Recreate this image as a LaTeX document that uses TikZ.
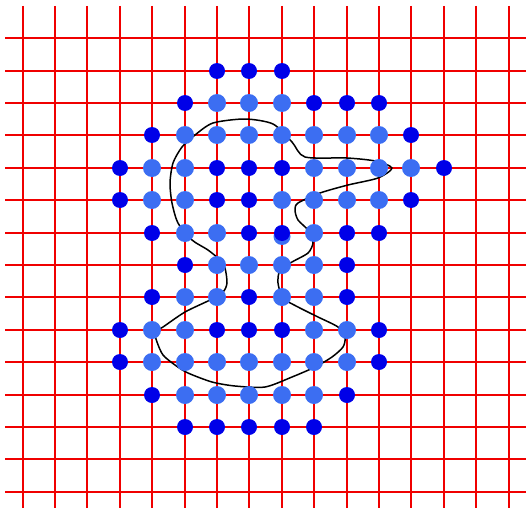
\documentclass[tikz,border=0pt]{standalone}
\definecolor{gridred}{RGB}{240,0,0}
\definecolor{darkdot}{RGB}{0,0,232}
\definecolor{lightdot}{RGB}{60,110,242}
\tikzset{
  gridline/.style={gridred,line width=2pt},
  ddot/.style={fill=darkdot},
  ldot/.style={fill=lightdot},
  contour/.style={black,line width=1.5pt,line join=round}
}
\begin{document}
\begin{tikzpicture}[x=1pt,y=-1pt]
\useasboundingbox (0,0) rectangle (526,508);
\fill[white] (0,0) rectangle (526,508);
% grid
\foreach \c in {0,...,15} {
  \pgfmathsetmacro\xx{round(22.7+32.4*\c)}
  \draw[gridline] (\xx,6) -- (\xx,508);
}
\foreach \r in {0,...,14} {
  \pgfmathsetmacro\yy{round(38.3+32.4*\r)}
  \draw[gridline] (5,\yy) -- (526,\yy);
}
% contour
\draw[contour] plot[smooth cycle, tension=0.45] coordinates {
(245,119) (273,124) (292,142) (305,157) (347,158) (375,161) (392,168) (378,178)
(348,185) (320,193) (298,203) (295,210) (298,220) (310,232) (313,243) (308,253)
(292,262) (280,270) (278,283) (283,298) (298,307) (318,317) (338,327) (345,337)
(343,347) (332,357) (315,367) (292,377) (265,387) (235,386) (212,382) (188,373)
(175,365) (163,355) (157,342) (155,332) (163,327) (185,312) (210,300) (223,292)
(227,283) (225,268) (220,260) (208,250) (192,240) (178,223) (172,203) (170,183)
(173,163) (182,147) (195,135) (213,123)};
% light dots
\foreach \c/\r in {6/2,7/2,8/2,
 5/3,6/3,7/3,8/3,9/3,10/3,11/3,
 4/4,5/4,9/4,10/4,11/4,12/4,
 4/5,5/5,8/5,9/5,10/5,11/5,
 5/6,6/6,9/6,
 6/7,7/7,8/7,9/7,
 5/8,6/8,8/8,9/8,
 4/9,5/9,9/9,10/9,
 4/10,5/10,6/10,7/10,8/10,9/10,10/10,
 5/11,6/11,7/11,8/11,9/11}
  \fill[ldot] ({round(22.7+32.4*\c)},{round(38.3+32.4*\r)}) circle (9);
% shadowed light dot behind dark one
\fill[ldot] ({round(22.7+32.4*8)},{round(38.3+32.4*6)+3.5}) circle (8.5);
% dark dots
\foreach \c/\r in {6/1,7/1,8/1,
 5/2,9/2,10/2,11/2,
 4/3,12/3,
 3/4,6/4,7/4,8/4,13/4,
 3/5,6/5,7/5,12/5,
 4/6,7/6,8/6,10/6,11/6,
 5/7,10/7,
 4/8,7/8,10/8,
 3/9,6/9,7/9,8/9,11/9,
 3/10,11/10,
 4/11,10/11,
 5/12,6/12,7/12,8/12,9/12}
  \fill[ddot] ({round(22.7+32.4*\c)},{round(38.3+32.4*\r)}) circle (8);
\end{tikzpicture}
\end{document}
